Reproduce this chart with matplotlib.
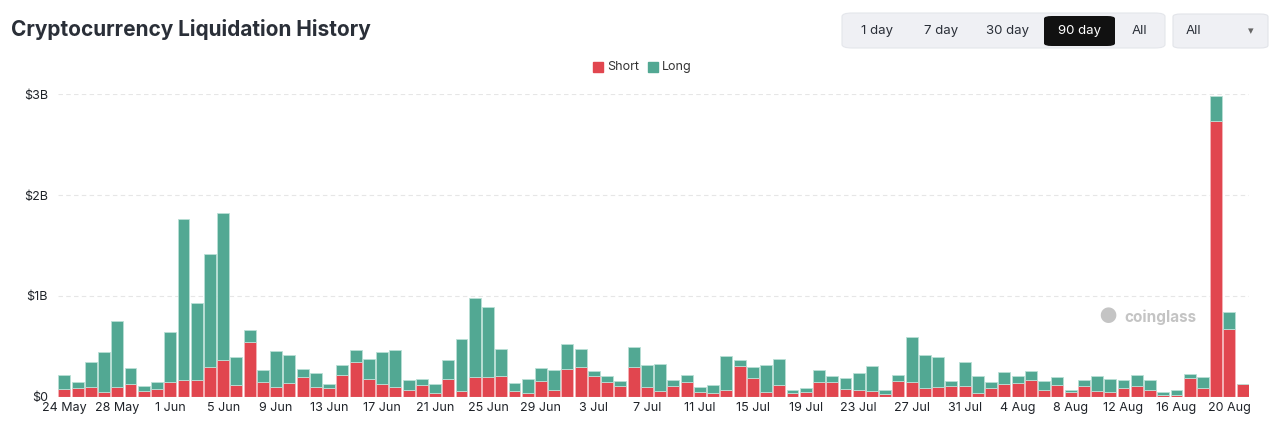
import numpy as np
import matplotlib
matplotlib.use('Agg')
import matplotlib.pyplot as plt
from matplotlib.patches import FancyBboxPatch, Rectangle

plt.rcParams['font.family'] = ['Inter', 'DejaVu Sans']

# daily liquidations in $B, 24 May .. 21 Aug (90 days)
short = [0.073, 0.089, 0.099, 0.050, 0.099, 0.129, 0.056, 0.073, 0.142, 0.165,
         0.165, 0.294, 0.366, 0.119, 0.538, 0.145, 0.099, 0.135, 0.195, 0.099,
         0.086, 0.218, 0.343, 0.172, 0.129, 0.092, 0.063, 0.116, 0.033, 0.172,
         0.059, 0.191, 0.191, 0.205, 0.056, 0.033, 0.158, 0.066, 0.277, 0.294,
         0.201, 0.149, 0.102, 0.294, 0.096, 0.056, 0.109, 0.145, 0.050, 0.040,
         0.066, 0.300, 0.185, 0.046, 0.112, 0.040, 0.046, 0.149, 0.149, 0.079,
         0.066, 0.059, 0.030, 0.158, 0.145, 0.089, 0.099, 0.109, 0.102, 0.040,
         0.089, 0.129, 0.135, 0.168, 0.069, 0.112, 0.043, 0.109, 0.059, 0.050,
         0.089, 0.106, 0.066, 0.020, 0.017, 0.182, 0.086, 2.733, 0.670, 0.122]
long_ = [0.142, 0.060, 0.241, 0.390, 0.651, 0.151, 0.053, 0.076, 0.498, 1.595,
         0.769, 1.126, 1.459, 0.274, 0.125, 0.115, 0.353, 0.278, 0.075, 0.132,
         0.043, 0.096, 0.116, 0.201, 0.310, 0.373, 0.099, 0.056, 0.096, 0.188,
         0.515, 0.786, 0.700, 0.270, 0.076, 0.139, 0.129, 0.201, 0.248, 0.178,
         0.053, 0.056, 0.056, 0.204, 0.214, 0.264, 0.059, 0.070, 0.049, 0.076,
         0.340, 0.066, 0.112, 0.268, 0.258, 0.029, 0.040, 0.118, 0.052, 0.106,
         0.172, 0.245, 0.039, 0.053, 0.449, 0.324, 0.290, 0.046, 0.241, 0.161,
         0.053, 0.112, 0.070, 0.083, 0.086, 0.079, 0.020, 0.053, 0.149, 0.125,
         0.079, 0.109, 0.099, 0.030, 0.049, 0.042, 0.105, 0.250, 0.168, 0.003]
date_labels = ['24 May', '28 May', '1 Jun', '5 Jun', '9 Jun', '13 Jun', '17 Jun',
               '21 Jun', '25 Jun', '29 Jun', '3 Jul', '7 Jul', '11 Jul', '15 Jul',
               '19 Jul', '23 Jul', '27 Jul', '31 Jul', '4 Aug', '8 Aug', '12 Aug',
               '16 Aug', '20 Aug']
y_ticks = [0, 1, 2, 3]
y_labels = ['$0', '$1B', '$2B', '$3B']
ranges = ['1 day', '7 day', '30 day', '90 day', 'All']

RED = '#e1464f'
GREEN = '#52a893'
W, H = 1280, 440

fig = plt.figure(figsize=(12.8, 4.4), dpi=100)


def box(x0, y0, x1, y1):
    # pixel box (top-left origin) -> figure fractions
    return [x0 / W, 1 - y1 / H, (x1 - x0) / W, (y1 - y0) / H]


ax = fig.add_axes(box(57.7, 94.3, 1249.3, 396.7))
x = np.arange(len(short))
ax.bar(x, short, width=0.9, color=RED, edgecolor='#f4b5b8', linewidth=0.6, zorder=3)
ax.bar(x, long_, bottom=short, width=0.9, color=GREEN, edgecolor='#b9e0d6',
       linewidth=0.6, zorder=3)
ax.set_xlim(-0.5, len(short) - 0.5)
ax.set_ylim(0, 3)
ax.set_yticks(y_ticks)
ax.set_yticklabels(y_labels)
ax.set_xticks(np.arange(0, len(short), 4))
ax.set_xticklabels(date_labels)
ax.tick_params(length=0, labelsize=9, colors='#1f2329', pad=4)
ax.tick_params(axis='y', pad=7)
ax.grid(axis='y', color='#e6e6e6', linestyle=(0, (4, 3)), linewidth=0.8, zorder=0)
for s in ax.spines.values():
    s.set_visible(False)
ax.axhline(0, color='#d8d8d8', linewidth=0.8, zorder=4)

# watermark
fig.text(1108 / W, 1 - 317 / H, '\u25cf', color='#c4c4c4', fontsize=15,
         ha='center', va='center')
fig.text(1124 / W, 1 - 317 / H, 'coinglass', color='#c4c4c4', fontsize=11,
         fontweight='bold', ha='left', va='center')

# title
fig.text(11 / W, 1 - 29 / H, 'Cryptocurrency Liquidation History', fontsize=15,
         fontweight='bold', color='#2a2f38', ha='left', va='center')

# legend
fig.patches.append(Rectangle((593 / W, 1 - 72 / H), 10 / W, 10 / H,
                             transform=fig.transFigure, color=RED))
fig.text(607 / W, 1 - 67 / H, 'Short', fontsize=9, color='#333', va='center')
fig.patches.append(Rectangle((648 / W, 1 - 72 / H), 10 / W, 10 / H,
                             transform=fig.transFigure, color=GREEN))
fig.text(662 / W, 1 - 67 / H, 'Long', fontsize=9, color='#333', va='center')

# range selector
b = box(842, 13, 1165, 48)
fig.patches.append(FancyBboxPatch((b[0], b[1]), b[2], b[3],
                                  boxstyle='round,pad=0,rounding_size=0.008',
                                  transform=fig.transFigure, facecolor='#eff0f4',
                                  edgecolor='#e4e6eb', linewidth=0.8))
b = box(1044, 16, 1115, 46)
fig.patches.append(FancyBboxPatch((b[0], b[1]), b[2], b[3],
                                  boxstyle='round,pad=0,rounding_size=0.006',
                                  transform=fig.transFigure, facecolor='#111111',
                                  edgecolor='none'))
for lab, cx in zip(ranges, [877, 941, 1008, 1079, 1139]):
    fig.text(cx / W, 1 - 31 / H, lab, fontsize=9.5, ha='center', va='center',
             color='white' if lab == '90 day' else '#2a2f38')

# dropdown
b = box(1173, 14, 1268, 48)
fig.patches.append(FancyBboxPatch((b[0], b[1]), b[2], b[3],
                                  boxstyle='round,pad=0,rounding_size=0.006',
                                  transform=fig.transFigure, facecolor='#eff0f4',
                                  edgecolor='#e2e4e9', linewidth=0.8))
fig.text(1186 / W, 1 - 31 / H, 'All', fontsize=9.5, ha='left', va='center',
         color='#2a2f38')
fig.text(1251 / W, 1 - 31 / H, '\u25be', fontsize=8, ha='center', va='center',
         color='#666')

fig.savefig('out.png', dpi=100, facecolor='white')
